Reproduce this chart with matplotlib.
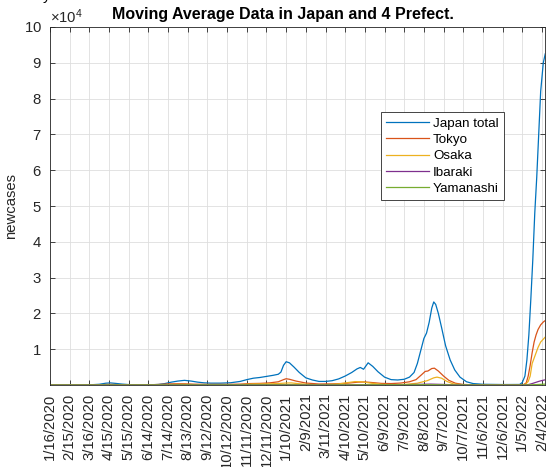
import numpy as np
import matplotlib.pyplot as plt
from matplotlib.ticker import ScalarFormatter

plt.rcParams['font.family'] = ['Liberation Sans', 'DejaVu Sans']
plt.rcParams['mathtext.fontset'] = 'custom'
plt.rcParams['mathtext.rm'] = 'Liberation Sans'
plt.rcParams['mathtext.it'] = 'Liberation Sans:italic'

# x axis: days since 1/16/2020, one tick every 30 days
tick_days = list(range(0, 751, 30))
tick_labels = ['1/16/2020', '2/15/2020', '3/16/2020', '4/15/2020', '5/15/2020',
               '6/14/2020', '7/14/2020', '8/13/2020', '9/12/2020', '10/12/2020',
               '11/11/2020', '12/11/2020', '1/10/2021', '2/9/2021', '3/11/2021',
               '4/10/2021', '5/10/2021', '6/9/2021', '7/9/2021', '8/8/2021',
               '9/7/2021', '10/7/2021', '11/6/2021', '12/6/2021', '1/5/2022',
               '2/4/2022']

# 7-day moving averages
japan_days = [0, 30, 50, 60, 75, 85, 92, 100, 110, 120, 130, 150, 165, 175, 185,
              195, 205, 215, 225, 235, 245, 260, 275, 290, 300, 310, 320, 330,
              340, 348, 352, 356, 360, 365, 372, 380, 390, 400, 410, 420, 430,
              440, 450, 460, 468, 473, 478, 485, 492, 500, 510, 520, 530, 540,
              548, 555, 560, 565, 570, 574, 578, 582, 585, 588, 592, 597, 603,
              610, 617, 625, 635, 645, 660, 690, 716, 720, 724, 727, 730, 733,
              736, 739, 742, 745, 748, 752, 755]
japan_vals = [0, 0, 10, 40, 200, 500, 580, 450, 250, 120, 40, 40, 150, 400, 800,
              1100, 1300, 1100, 800, 600, 520, 520, 620, 1000, 1500, 1900, 2100,
              2400, 2700, 3000, 3600, 5500, 6500, 6200, 5000, 3500, 2000, 1400,
              1000, 1000, 1200, 1700, 2500, 3500, 4500, 4900, 4400, 6200, 5200,
              3700, 2200, 1500, 1400, 1600, 2200, 3500, 6000, 9500, 13000, 14500,
              17500, 21500, 23200, 22500, 20000, 16000, 11000, 7000, 4200, 2200,
              900, 400, 200, 130, 150, 700, 2500, 7000, 14000, 24000, 35000,
              48000, 58000, 70000, 82000, 90000, 92500]

tokyo_days = [0, 60, 75, 85, 92, 100, 115, 130, 150, 165, 180, 195, 205, 220,
              240, 270, 290, 305, 320, 335, 348, 356, 360, 365, 375, 390, 410,
              430, 450, 470, 480, 490, 505, 520, 535, 548, 558, 566, 572, 576,
              582, 586, 592, 600, 608, 618, 630, 650, 700, 718, 722, 726, 729,
              732, 735, 738, 741, 744, 748, 752, 755]
tokyo_vals = [0, 0, 50, 150, 170, 130, 40, 10, 30, 150, 300, 350, 340, 220, 180,
              180, 250, 400, 450, 600, 900, 1500, 1750, 1600, 1100, 550, 280, 320,
              450, 800, 850, 700, 450, 400, 550, 900, 1500, 2800, 3800, 3900, 4600,
              4700, 3900, 2500, 1300, 500, 150, 30, 20, 40, 100, 600, 2500, 5500,
              9000, 12000, 14000, 15500, 16800, 17600, 18000]

osaka_days = [0, 60, 85, 95, 110, 130, 170, 190, 205, 220, 250, 290, 310, 330,
              345, 360, 368, 380, 400, 420, 440, 455, 465, 475, 490, 505, 520,
              540, 560, 575, 585, 590, 597, 605, 615, 630, 700, 720, 725, 729,
              732, 735, 738, 741, 744, 748, 752, 755]
osaka_vals = [0, 0, 50, 60, 30, 5, 50, 150, 180, 100, 60, 100, 300, 320, 380,
              550, 580, 350, 100, 80, 300, 700, 950, 900, 500, 200, 80, 150, 500,
              1200, 2000, 2200, 1900, 1000, 300, 50, 10, 50, 200, 1000, 2500, 6000,
              7500, 9000, 10500, 12000, 12800, 13400]

ibaraki_days = [0, 300, 360, 400, 480, 520, 580, 600, 630, 725, 730, 735, 740,
                745, 750, 755]
ibaraki_vals = [0, 20, 100, 20, 60, 10, 250, 150, 5, 20, 150, 400, 700, 1000,
                1250, 1450]

yamanashi_days = [0, 360, 400, 580, 620, 725, 740, 755]
yamanashi_vals = [0, 30, 5, 80, 5, 0, 100, 250]

names = ['Japan total', 'Tokyo', 'Osaka', 'Ibaraki', 'Yamanashi']
colors = ['#0072BD', '#D95319', '#EDB120', '#7E2F8E', '#77AC30']
series = [(japan_days, japan_vals), (tokyo_days, tokyo_vals),
          (osaka_days, osaka_vals), (ibaraki_days, ibaraki_vals),
          (yamanashi_days, yamanashi_vals)]

axcol = '#262626'
fig = plt.figure(figsize=(5.47, 4.67), dpi=100)
ax = fig.add_axes([50/547, 1 - 385/467, 495/547, 358/467])

for (d, v), name, c in zip(series, names, colors):
    ax.plot(d, v, color=c, lw=0.9, label=name)

ax.set_xlim(0, 754.6)
ax.set_ylim(0, 1e5)
ax.set_xticks(tick_days)
ax.set_xticklabels(tick_labels, rotation=90)
ax.set_yticks(np.arange(1, 11) * 1e4)
fmt = ScalarFormatter(useMathText=True)
fmt.set_powerlimits((4, 4))
ax.yaxis.set_major_formatter(fmt)

ax.grid(True, color='#dedede', lw=0.6)
ax.set_axisbelow(True)
ax.tick_params(direction='in', length=3.5, width=0.6, top=True, right=True,
               labelsize=10.7, colors=axcol, pad=6)
for s in ax.spines.values():
    s.set_color(axcol)
    s.set_linewidth(0.6)
ax.yaxis.get_offset_text().set_fontsize(10.7)
ax.yaxis.get_offset_text().set_color(axcol)

ax.set_ylabel('newcases', fontsize=10.7, color=axcol)
ax.set_title('Moving Average Data in Japan and 4 Prefect.', fontsize=11.5,
             fontweight='bold', x=0.47, pad=6)

leg = ax.legend(loc='upper left', bbox_to_anchor=(381/547, 1 - 112/467),
                bbox_transform=fig.transFigure, fontsize=9.6, fancybox=False,
                edgecolor=axcol, framealpha=1, handlelength=3.2,
                handletextpad=0.3, labelspacing=0.3, borderpad=0.4,
                borderaxespad=0)
leg.get_frame().set_linewidth(0.6)

fig.text(43/547, 1.0, 'y', fontsize=10.7, va='baseline')

fig.savefig('out.png', dpi=100)
